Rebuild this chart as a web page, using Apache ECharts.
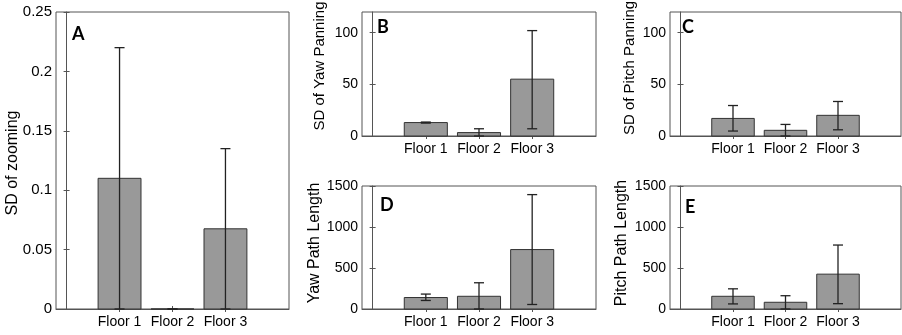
<!DOCTYPE html>
<html>
<head>
<meta charset="utf-8">
<script src="https://cdn.jsdelivr.net/npm/echarts@6/dist/echarts.min.js"></script>
<style>
html,body{margin:0;padding:0;background:#fff;}
#c{width:902px;height:335px;}
</style>
</head>
<body>
<div id="c"></div>
<script>
// ---- data ----
const categories = ['Floor 1', 'Floor 2', 'Floor 3'];
const catPos = [1, 2, 3];

const meanA = [0.11, 0, 0.0675];
const lowA  = [0, 0, 0];
const highA = [0.22, 0, 0.135];

const meanB = [13, 3.3, 55];
const lowB  = [12.5, 0, 7];
const highB = [13.5, 7, 102];

const meanC = [17, 5.5, 20];
const lowC  = [4.8, 0, 6];
const highC = [29.5, 11.2, 33.4];

const meanD = [140, 155, 725];
const lowD  = [104, 0, 55];
const highD = [182, 320, 1395];

const meanE = [155, 82, 425];
const lowE  = [62, 0, 65];
const highE = [246, 162, 780];

const ticksA = [0, 0.05, 0.1, 0.15, 0.2, 0.25];
const ticksBC = [0, 50, 100];
const ticksDE = [0, 500, 1000, 1500];

const titles = ['SD of zooming', 'SD of Yaw Panning', 'SD of Pitch Panning', 'Yaw Path Length', 'Pitch Path Length'];
const letters = ['A', 'B', 'C', 'D', 'E'];

// ---- layout ----
const panels = [
  {mean: meanA, low: lowA, high: highA, ticks: ticksA, ymax: 0.25, grid: {left: 56, top: 12, width: 233, height: 297}, fs: 15, tfs: 16,
   title: [13, 163], letter: [72, 34]},
  {mean: meanB, low: lowB, high: highB, ticks: ticksBC, ymax: 120, grid: {left: 362, top: 12, width: 234, height: 124}, fs: 14, tfs: 15,
   title: [320, 66], letter: [377, 27]},
  {mean: meanC, low: lowC, high: highC, ticks: ticksBC, ymax: 120, grid: {left: 670, top: 12, width: 231, height: 124}, fs: 14, tfs: 15,
   title: [630, 68], letter: [682, 27]},
  {mean: meanD, low: lowD, high: highD, ticks: ticksDE, ymax: 1500, grid: {left: 362, top: 186, width: 234, height: 123}, fs: 14, tfs: 16,
   title: [315, 243], letter: [380, 205]},
  {mean: meanE, low: lowE, high: highE, ticks: ticksDE, ymax: 1500, grid: {left: 670, top: 186, width: 231, height: 123}, fs: 14, tfs: 16,
   title: [622, 243], letter: [685, 207]}
];

const axisCol = '#555';
const textCol = '#000';
const grids = [], xAxes = [], yAxes = [], series = [], graphics = [];
const XMIN = -0.2, XMAX = 4.2;

panels.forEach((p, i) => {
  grids.push(Object.assign({show: true, borderColor: axisCol, borderWidth: 1, backgroundColor: '#fff'}, p.grid));
  const fmtX = v => categories[catPos.indexOf(v)] || '';
  xAxes.push({type: 'value', gridIndex: i, min: XMIN, max: XMAX, position: 'bottom',
    splitLine: {show: false},
    axisLine: {show: true, lineStyle: {color: axisCol}},
    axisTick: {show: true, inside: true, length: 3, customValues: catPos, lineStyle: {color: axisCol}},
    axisLabel: {show: true, customValues: catPos, formatter: fmtX, margin: 6, color: textCol,
      fontFamily: 'Liberation Sans, Arial, sans-serif', fontSize: 14}});
  xAxes.push({type: 'value', gridIndex: i, min: XMIN, max: XMAX, position: 'top',
    splitLine: {show: false}, axisLine: {show: false},
    axisTick: {show: true, inside: true, length: 3, customValues: catPos, lineStyle: {color: axisCol}},
    axisLabel: {show: false}});
  yAxes.push({type: 'value', gridIndex: i, min: 0, max: p.ymax, position: 'left',
    splitLine: {show: false},
    axisLine: {show: true, lineStyle: {color: axisCol}},
    axisTick: {show: true, inside: true, length: 3, customValues: p.ticks, lineStyle: {color: axisCol}},
    axisLabel: {show: true, customValues: p.ticks, formatter: v => String(v), margin: 4, color: textCol,
      fontFamily: 'Liberation Sans, Arial, sans-serif', fontSize: p.fs}});
  yAxes.push({type: 'value', gridIndex: i, min: 0, max: p.ymax, position: 'right',
    splitLine: {show: false}, axisLine: {show: false},
    axisTick: {show: true, inside: true, length: 3, customValues: p.ticks, lineStyle: {color: axisCol}},
    axisLabel: {show: false}});

  const xi = i * 2, yi = i * 2;
  series.push({
    type: 'custom', xAxisIndex: xi, yAxisIndex: yi, z: 2,
    data: catPos.map((x, k) => [x, p.mean[k]]),
    renderItem: (params, api) => {
      const x = api.value(0), v = api.value(1);
      const a = api.coord([x - 0.405, v]);
      const b = api.coord([x + 0.405, 0]);
      return {type: 'rect', shape: {x: a[0], y: a[1], width: b[0] - a[0], height: b[1] - a[1]},
        style: {fill: '#999999', stroke: '#333', lineWidth: 1}};
    }
  });
  series.push({
    type: 'custom', xAxisIndex: xi, yAxisIndex: yi, z: 3,
    data: catPos.map((x, k) => [x, p.low[k], p.high[k]]),
    renderItem: (params, api) => {
      const x = api.value(0);
      const lo = api.coord([x, api.value(1)]);
      const hi = api.coord([x, api.value(2)]);
      const w = 5;
      const st = {stroke: '#222', lineWidth: 1.3};
      return {type: 'group', children: [
        {type: 'line', shape: {x1: lo[0], y1: lo[1], x2: hi[0], y2: hi[1]}, style: st},
        {type: 'line', shape: {x1: hi[0] - w, y1: hi[1], x2: hi[0] + w, y2: hi[1]}, style: st},
        {type: 'line', shape: {x1: lo[0] - w, y1: lo[1], x2: lo[0] + w, y2: lo[1]}, style: st}
      ]};
    }
  });

  graphics.push({type: 'text', x: p.title[0], y: p.title[1], rotation: Math.PI / 2,
    style: {text: titles[i], align: 'center', verticalAlign: 'middle', fill: textCol,
      font: p.tfs + 'px "Liberation Sans", Arial, sans-serif'}});
  graphics.push({type: 'text', x: p.letter[0], y: p.letter[1],
    style: {text: letters[i], align: 'left', verticalAlign: 'middle', fill: '#000',
      font: 'bold 18px Lato, "Open Sans", sans-serif'}});
});

const chart = echarts.init(document.getElementById('c'), null, {renderer: 'canvas'});
chart.setOption({
  animation: false,
  backgroundColor: '#fff',
  grid: grids, xAxis: xAxes, yAxis: yAxes, series: series, graphic: graphics
});
</script>
</body>
</html>
